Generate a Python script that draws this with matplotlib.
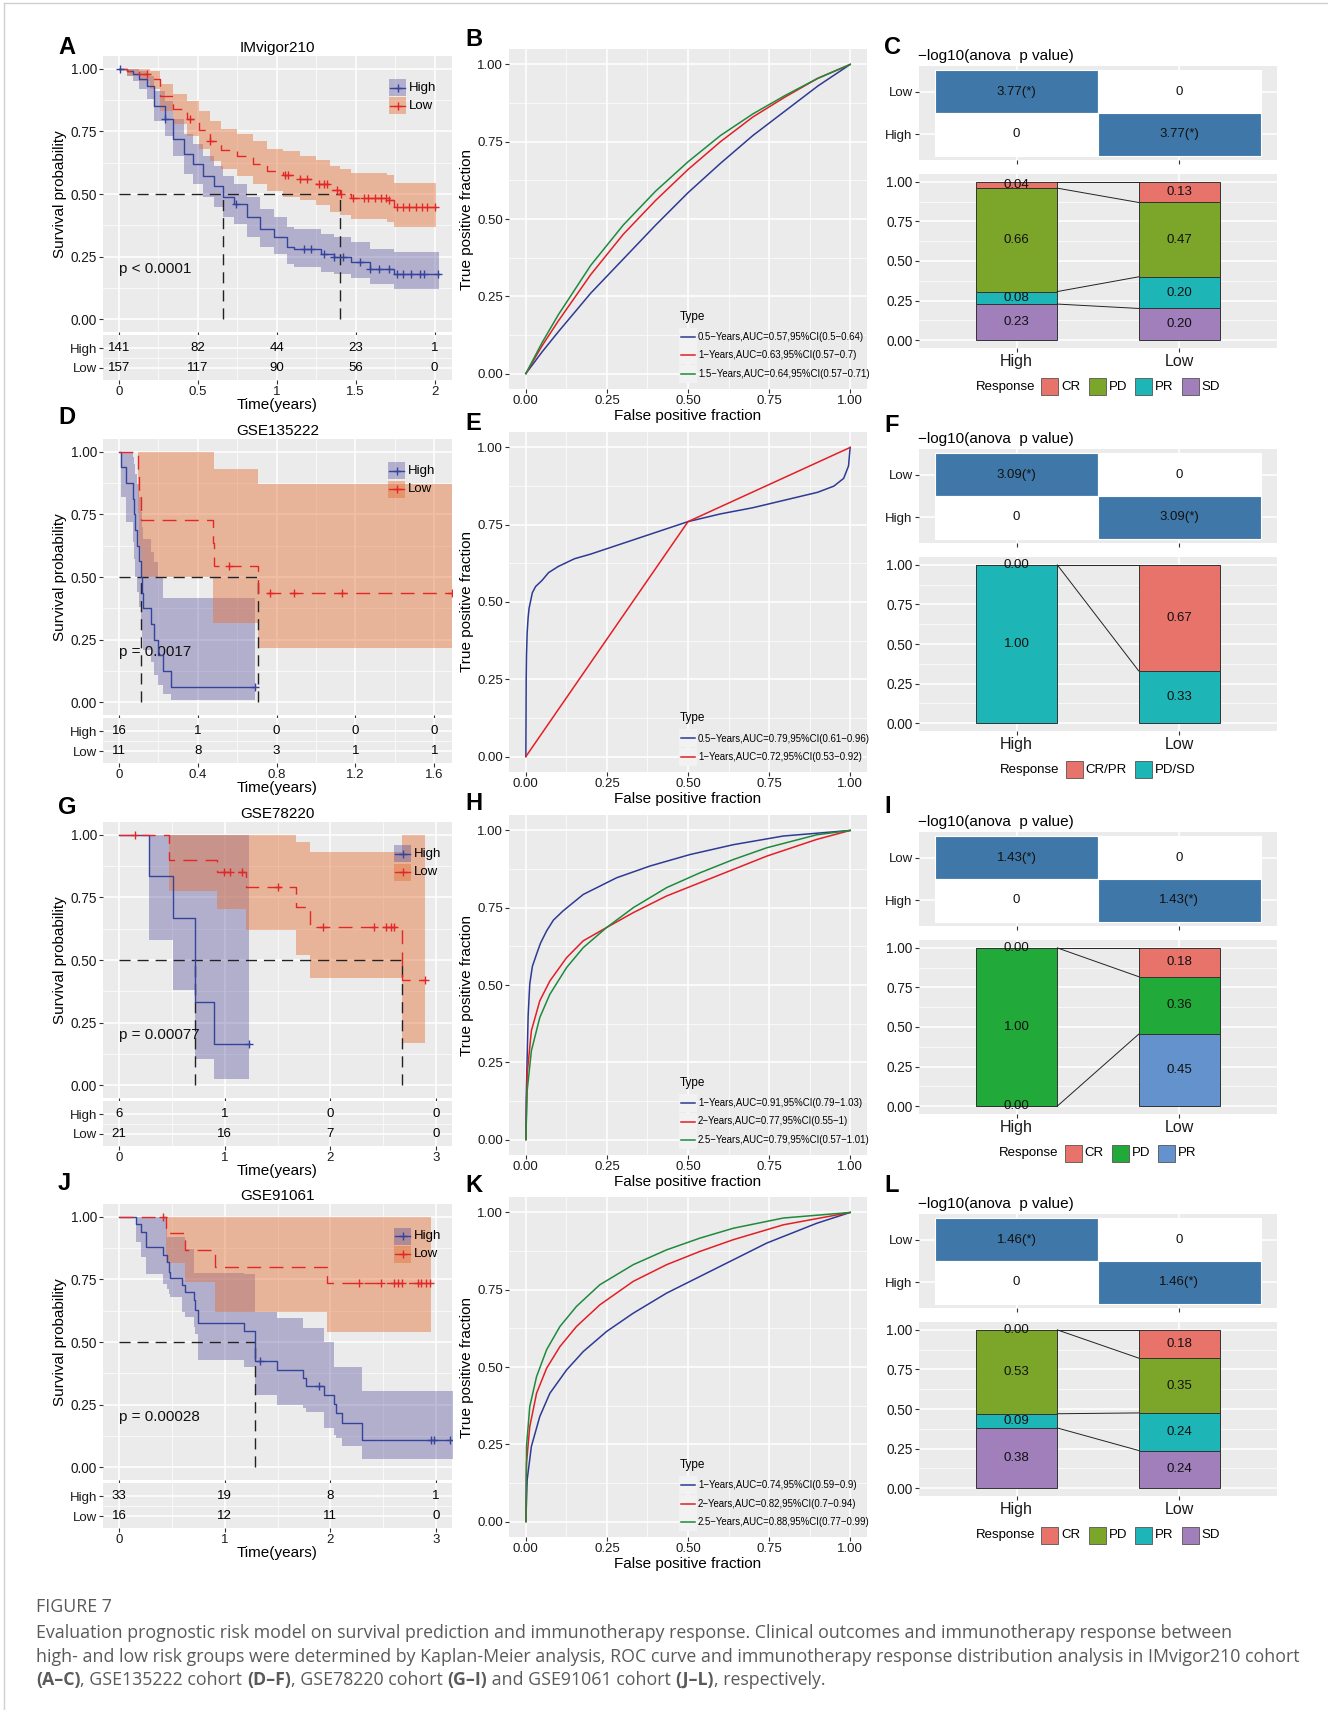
import numpy as np
import matplotlib
matplotlib.use("Agg")
import matplotlib.pyplot as plt
from matplotlib.patches import Rectangle
from matplotlib.lines import Line2D

plt.rcParams['font.family'] = ['Liberation Sans', 'DejaVu Sans']

W, H = 1328, 1710
ROW_OFF = [0, 383, 766, 1148]

# ============================ DATA ============================
cohorts = ["IMvigor210", "GSE135222", "GSE78220", "GSE91061"]
km_xticks = [[0, 0.5, 1, 1.5, 2], [0, 0.4, 0.8, 1.2, 1.6], [0, 1, 2, 3], [0, 1, 2, 3]]
km_xticklabels = [["0", "0.5", "1", "1.5", "2"], ["0", "0.4", "0.8", "1.2", "1.6"],
                  ["0", "1", "2", "3"], ["0", "1", "2", "3"]]
km_xlims = [(-0.1, 2.11), (-0.081, 1.69), (-0.152, 3.15), (-0.152, 3.15)]
pvals = ["p < 0.0001", "p = 0.0017", "p = 0.00077", "p = 0.00028"]
risk_high = [[141, 82, 44, 23, 1], [16, 1, 0, 0, 0], [6, 1, 0, 0], [33, 19, 8, 1]]
risk_low = [[157, 117, 90, 56, 0], [11, 8, 3, 1, 1], [21, 16, 7, 0], [16, 12, 11, 0]]

# --- IMvigor210 ---
A_high_time = [0, 0.05, 0.09, 0.13, 0.18, 0.22, 0.29, 0.345, 0.41, 0.47, 0.535, 0.60, 0.66, 0.73, 0.81, 0.895, 0.98, 1.065, 1.11, 1.28, 1.36, 1.47, 1.59, 1.74]
A_high_surv = [1, 0.99, 0.98, 0.96, 0.93, 0.85, 0.80, 0.72, 0.66, 0.62, 0.57, 0.53, 0.49, 0.46, 0.41, 0.36, 0.33, 0.29, 0.28, 0.26, 0.25, 0.23, 0.20, 0.18]
A_high_lcl = [1, 0.97, 0.95, 0.92, 0.88, 0.79, 0.73, 0.65, 0.58, 0.54, 0.49, 0.45, 0.41, 0.38, 0.33, 0.29, 0.26, 0.22, 0.21, 0.19, 0.18, 0.165, 0.14, 0.12]
A_high_ucl = [1, 1, 1, 0.99, 0.97, 0.91, 0.87, 0.80, 0.74, 0.70, 0.65, 0.61, 0.57, 0.54, 0.49, 0.44, 0.41, 0.37, 0.36, 0.34, 0.33, 0.31, 0.28, 0.27]
A_high_end = 2.03
A_high_cens = [0.01, 0.29, 0.74, 1.17, 1.22, 1.30, 1.36, 1.42, 1.53, 1.59, 1.65, 1.71, 1.76, 1.80, 1.85, 1.91, 1.93, 2.02]
A_low_time = [0, 0.05, 0.13, 0.20, 0.26, 0.345, 0.43, 0.51, 0.58, 0.65, 0.75, 0.85, 0.94, 1.04, 1.15, 1.25, 1.34, 1.40, 1.47, 1.70, 1.74]
A_low_surv = [1, 0.99, 0.98, 0.96, 0.89, 0.84, 0.80, 0.755, 0.71, 0.675, 0.65, 0.62, 0.59, 0.575, 0.56, 0.54, 0.515, 0.50, 0.485, 0.475, 0.45]
A_low_lcl = [1, 0.97, 0.95, 0.92, 0.83, 0.78, 0.73, 0.68, 0.63, 0.60, 0.57, 0.54, 0.51, 0.49, 0.475, 0.455, 0.43, 0.415, 0.40, 0.39, 0.37]
A_low_ucl = [1, 1, 1, 0.99, 0.94, 0.90, 0.87, 0.83, 0.79, 0.76, 0.74, 0.71, 0.68, 0.67, 0.65, 0.635, 0.61, 0.60, 0.585, 0.575, 0.545]
A_low_end = 2.01
A_low_cens = [0.18, 0.45, 0.58, 1.05, 1.07, 1.15, 1.19, 1.27, 1.30, 1.32, 1.38, 1.41, 1.48, 1.55, 1.58, 1.62, 1.66, 1.69, 1.71, 1.76, 1.80, 1.84, 1.88, 1.92, 1.95, 2.0]

# --- GSE135222 ---
D_high_time = [0, 0.01, 0.035, 0.07, 0.078, 0.083, 0.09, 0.10, 0.11, 0.118, 0.123, 0.162, 0.18, 0.20, 0.225, 0.262]
D_high_surv = [1, 0.9375, 0.875, 0.8125, 0.75, 0.6875, 0.625, 0.5625, 0.5, 0.4375, 0.375, 0.3125, 0.25, 0.1875, 0.125, 0.0625]
D_high_lcl = [1, 0.82, 0.72, 0.64, 0.57, 0.50, 0.44, 0.38, 0.32, 0.26, 0.21, 0.16, 0.11, 0.07, 0.035, 0.01]
D_high_ucl = [1, 1, 1, 0.98, 0.95, 0.91, 0.87, 0.82, 0.76, 0.70, 0.65, 0.60, 0.56, 0.50, 0.415, 0.415]
D_high_end = 0.69
D_high_cens = [0.69]
D_low_time = [0, 0.098, 0.103, 0.112, 0.475, 0.48, 0.705]
D_low_surv = [1, 0.909, 0.818, 0.727, 0.636, 0.545, 0.436]
D_low_lcl = [1, 0.75, 0.62, 0.50, 0.316, 0.316, 0.217]
D_low_ucl = [1, 1, 1, 1, 1, 0.93, 0.87]
D_low_end = 1.69
D_low_cens = [0.56, 0.765, 0.89, 1.13, 1.69]

# --- GSE78220 ---
G_high_time = [0, 0.285, 0.51, 0.72, 0.895]
G_high_surv = [1, 0.833, 0.667, 0.333, 0.167]
G_high_lcl = [1, 0.58, 0.38, 0.107, 0.027]
G_high_ucl = [1, 1, 1, 1, 1]
G_high_end = 1.23
G_high_cens = [1.23]
G_low_time = [0, 0.475, 0.93, 1.20, 1.67, 1.81, 2.68]
G_low_surv = [1, 0.90, 0.85, 0.79, 0.71, 0.63, 0.42]
G_low_lcl = [1, 0.775, 0.705, 0.62, 0.52, 0.43, 0.17]
G_low_ucl = [1, 1, 1, 1, 0.97, 0.93, 1]
G_low_end = 2.89
G_low_cens = [0.15, 0.99, 1.05, 1.16, 1.50, 1.93, 2.41, 2.53, 2.57, 2.60, 2.89]

# --- GSE91061 ---
J_high_time = [0, 0.16, 0.21, 0.256, 0.42, 0.45, 0.47, 0.48, 0.595, 0.62, 0.705, 0.72, 0.75, 1.18, 1.29, 1.49, 1.74, 1.77, 1.94, 2.03, 2.05, 2.11, 2.30]
J_high_surv = [1, 0.97, 0.94, 0.88, 0.847, 0.818, 0.78, 0.754, 0.728, 0.70, 0.668, 0.628, 0.575, 0.545, 0.425, 0.39, 0.356, 0.325, 0.29, 0.252, 0.216, 0.177, 0.108]
J_high_lcl = [1, 0.90, 0.84, 0.77, 0.73, 0.71, 0.69, 0.68, 0.62, 0.60, 0.56, 0.53, 0.43, 0.40, 0.29, 0.25, 0.235, 0.22, 0.157, 0.13, 0.117, 0.084, 0.035]
J_high_ucl = [1, 1, 1, 1, 1, 0.92, 0.92, 0.92, 0.92, 0.87, 0.775, 0.775, 0.775, 0.77, 0.62, 0.595, 0.555, 0.555, 0.50, 0.40, 0.40, 0.40, 0.305]
J_high_end = 3.16
J_high_cens = [1.33, 1.89, 2.95, 2.98, 3.13]
J_low_time = [0, 0.446, 0.62, 0.91, 1.97]
J_low_surv = [1, 0.933, 0.867, 0.80, 0.734]
J_low_lcl = [1, 0.815, 0.74, 0.62, 0.54]
J_low_ucl = [1, 1, 1, 1, 0.997]
J_low_end = 2.95
J_low_cens = [0.42, 2.27, 2.48, 2.60, 2.64, 2.68, 2.83, 2.86, 2.90, 2.94]

# --- ROC curves ---
B_fpr = [0, 0.05, 0.1, 0.2, 0.3, 0.4, 0.5, 0.6, 0.7, 0.8, 0.9, 1]
B_tpr_05y = [0, 0.07, 0.135, 0.26, 0.37, 0.48, 0.585, 0.68, 0.77, 0.85, 0.93, 1]
B_tpr_1y = [0, 0.09, 0.17, 0.32, 0.45, 0.56, 0.66, 0.75, 0.83, 0.895, 0.955, 1]
B_tpr_15y = [0, 0.10, 0.19, 0.35, 0.48, 0.59, 0.685, 0.77, 0.84, 0.90, 0.955, 1]
B_labels = ["0.5\u2212Years,AUC=0.57,95%CI(0.5\u22120.64)", "1\u2212Years,AUC=0.63,95%CI(0.57\u22120.7)",
            "1.5\u2212Years,AUC=0.64,95%CI(0.57\u22120.71)"]

E_fpr_05y = [0, 0.001, 0.002, 0.004, 0.007, 0.01, 0.02, 0.03, 0.05, 0.07, 0.1, 0.15, 0.2, 0.3, 0.4, 0.5, 0.6, 0.7, 0.8, 0.9, 0.95, 0.98, 0.995, 1]
E_tpr_05y = [0, 0.25, 0.33, 0.40, 0.45, 0.48, 0.53, 0.55, 0.57, 0.595, 0.615, 0.64, 0.655, 0.69, 0.725, 0.76, 0.785, 0.805, 0.83, 0.855, 0.875, 0.90, 0.94, 1]
E_fpr_1y = [0, 0.5, 1]
E_tpr_1y = [0, 0.76, 1]
E_labels = ["0.5\u2212Years,AUC=0.79,95%CI(0.61\u22120.96)", "1\u2212Years,AUC=0.72,95%CI(0.53\u22120.92)"]

H_fpr_1y = [0, 0.001, 0.004, 0.007, 0.012, 0.02, 0.033, 0.045, 0.064, 0.085, 0.115, 0.177, 0.28, 0.383, 0.506, 0.64, 0.794, 1]
H_tpr_1y = [0, 0.13, 0.266, 0.40, 0.503, 0.56, 0.60, 0.635, 0.675, 0.71, 0.74, 0.793, 0.847, 0.885, 0.922, 0.954, 0.982, 1]
H_fpr_2y = [0, 0.004, 0.017, 0.043, 0.074, 0.126, 0.177, 0.249, 0.331, 0.434, 0.537, 0.64, 0.743, 0.897, 1]
H_tpr_2y = [0, 0.212, 0.352, 0.449, 0.513, 0.589, 0.643, 0.686, 0.734, 0.788, 0.831, 0.874, 0.917, 0.971, 1]
H_fpr_25y = [0, 0.004, 0.017, 0.043, 0.074, 0.126, 0.177, 0.249, 0.331, 0.434, 0.537, 0.64, 0.743, 0.897, 1]
H_tpr_25y = [0, 0.158, 0.287, 0.395, 0.47, 0.557, 0.621, 0.686, 0.75, 0.815, 0.863, 0.906, 0.944, 0.986, 1]
H_labels = ["1\u2212Years,AUC=0.91,95%CI(0.79\u22121.03)", "2\u2212Years,AUC=0.77,95%CI(0.55\u22121)",
            "2.5\u2212Years,AUC=0.79,95%CI(0.57\u22121.01)"]

K_fpr_1y = [0, 0.004, 0.017, 0.043, 0.074, 0.126, 0.177, 0.249, 0.331, 0.434, 0.537, 0.64, 0.743, 0.897, 1]
K_tpr_1y = [0, 0.135, 0.243, 0.34, 0.415, 0.491, 0.55, 0.615, 0.674, 0.739, 0.793, 0.847, 0.901, 0.965, 1]
K_fpr_2y = [0, 0.002, 0.012, 0.033, 0.064, 0.105, 0.156, 0.228, 0.331, 0.434, 0.537, 0.64, 0.794, 1]
K_tpr_2y = [0, 0.189, 0.307, 0.415, 0.496, 0.566, 0.631, 0.701, 0.777, 0.831, 0.874, 0.912, 0.96, 1]
K_fpr_25y = [0, 0.002, 0.012, 0.033, 0.064, 0.105, 0.156, 0.228, 0.331, 0.434, 0.537, 0.64, 0.794, 1]
K_tpr_25y = [0, 0.243, 0.372, 0.469, 0.556, 0.631, 0.696, 0.766, 0.831, 0.879, 0.917, 0.949, 0.982, 1]
K_labels = ["1\u2212Years,AUC=0.74,95%CI(0.59\u22120.9)", "2\u2212Years,AUC=0.82,95%CI(0.7\u22120.94)",
            "2.5\u2212Years,AUC=0.88,95%CI(0.77\u22120.99)"]

# --- Response distributions ---
groups = ["High", "Low"]
C_levels = ["CR", "PD", "PR", "SD"]
C_high = [0.04, 0.66, 0.08, 0.23]
C_low = [0.13, 0.47, 0.20, 0.20]
F_levels = ["CR/PR", "PD/SD"]
F_high = [0.00, 1.00]
F_low = [0.67, 0.33]
I_levels = ["CR", "PD", "PR"]
I_high = [0.00, 1.00, 0.00]
I_low = [0.18, 0.36, 0.45]
L_levels = ["CR", "PD", "PR", "SD"]
L_high = [0.00, 0.53, 0.09, 0.38]
L_low = [0.18, 0.35, 0.24, 0.24]
anova_vals = ["3.77", "3.09", "1.43", "1.46"]

# ============================ STYLE ============================
GRAY_BG = '#EBEBEB'
HIGH_LINE = '#35449A'
HIGH_FILL = '#484095'
HIGH_ALPHA = 0.35
LOW_LINE = '#E32626'
LOW_FILL = '#E47139'
LOW_ALPHA = 0.45
ROC_COLS = ['#2E3A93', '#E41E26', '#1E8B3C']
RESP_COL = {"CR": '#E8736B', "PD": '#7BA62A', "PR": '#1DB5B5', "SD": '#A07FBA',
            "CR/PR": '#E8736B', "PD/SD": '#1DB5B5'}
I_COL = {"CR": '#E8736B', "PD": '#21AA3A', "PR": '#6392CD'}
HEAT_BLUE = '#3F78A8'

fig = plt.figure(figsize=(W / 100, H / 100), dpi=100)


def pax(x0, y0, x1, y1):
    return fig.add_axes([x0 / W, 1 - y1 / H, (x1 - x0) / W, (y1 - y0) / H])


def fig_rect(x0, y0, x1, y1, **kw):
    fig.add_artist(Rectangle((x0 / W, 1 - y1 / H), (x1 - x0) / W, (y1 - y0) / H,
                             transform=fig.transFigure, **kw))


def fig_line(xs, ys, **kw):
    fig.add_artist(Line2D([x / W for x in xs], [1 - y / H for y in ys],
                          transform=fig.transFigure, **kw))


def ftext(x, y, s, **kw):
    return fig.text(x / W, 1 - y / H, s, **kw)


def style_gg(ax, minor=True):
    ax.set_facecolor(GRAY_BG)
    for sp in ax.spines.values():
        sp.set_visible(False)
    ax.tick_params(which='major', length=3, width=0.8, color='#333333',
                   labelcolor='#1a1a1a', pad=1.5)
    ax.tick_params(which='minor', length=0)
    ax.grid(which='major', color='white', lw=1.1)
    if minor:
        ax.grid(which='minor', color='white', lw=0.5)
    ax.set_axisbelow(True)


def mids(v):
    return [(a + b) / 2 for a, b in zip(v[:-1], v[1:])]


km_data = [
    ((A_high_time, A_high_surv, A_high_lcl, A_high_ucl, A_high_end, A_high_cens),
     (A_low_time, A_low_surv, A_low_lcl, A_low_ucl, A_low_end, A_low_cens)),
    ((D_high_time, D_high_surv, D_high_lcl, D_high_ucl, D_high_end, D_high_cens),
     (D_low_time, D_low_surv, D_low_lcl, D_low_ucl, D_low_end, D_low_cens)),
    ((G_high_time, G_high_surv, G_high_lcl, G_high_ucl, G_high_end, G_high_cens),
     (G_low_time, G_low_surv, G_low_lcl, G_low_ucl, G_low_end, G_low_cens)),
    ((J_high_time, J_high_surv, J_high_lcl, J_high_ucl, J_high_end, J_high_cens),
     (J_low_time, J_low_surv, J_low_lcl, J_low_ucl, J_low_end, J_low_cens)),
]
legend_x = [389, 388, 394, 394]

# ============================ KM PANELS ============================
for r in range(4):
    off = ROW_OFF[r]
    xt = km_xticks[r]
    ax = pax(103, 56 + off, 452, 332 + off)
    style_gg(ax)
    ax.set_xlim(km_xlims[r])
    ax.set_ylim(-0.05, 1.05)
    ax.set_xticks(xt)
    ax.set_xticks(mids(xt), minor=True)
    ax.set_yticks([0, 0.25, 0.5, 0.75, 1.0])
    ax.set_yticklabels(['0.00', '0.25', '0.50', '0.75', '1.00'], fontsize=9.8)
    ax.set_yticks([0.125, 0.375, 0.625, 0.875], minor=True)
    ax.tick_params(axis='x', labelbottom=False)
    ax.set_ylabel('Survival probability', fontsize=11, labelpad=2)
    ax.set_title(cohorts[r], fontsize=11, pad=3)

    hi, lo = km_data[r]
    fills = [(hi, HIGH_FILL, HIGH_ALPHA), (lo, LOW_FILL, LOW_ALPHA)]
    for (t, s, lcl, ucl, end, cens), fc, al in fills:
        tt = list(t) + [end]
        ax.fill_between(tt, list(lcl) + [lcl[-1]], list(ucl) + [ucl[-1]],
                        step='post', color=fc, alpha=al, lw=0)
    lines = [(hi, HIGH_LINE, '-'), (lo, LOW_LINE, (0, (10, 6)))]
    meds = []
    for (t, s, lcl, ucl, end, cens), lc, ls in lines:
        tt = list(t) + [end]
        ss = list(s) + [s[-1]]
        ax.step(tt, ss, where='post', color=lc, lw=1.0, ls=ls, zorder=4)
        idx = np.searchsorted(np.array(t), np.array(cens), side='right') - 1
        cy = np.array(s)[np.clip(idx, 0, None)]
        ax.plot(cens, cy, ls='none', marker='+', ms=6, mew=1.0, color=lc, zorder=5)
        below = [ti for ti, si in zip(t, s) if si <= 0.5]
        if below:
            meds.append(below[0])
    if meds:
        ax.plot([0, max(meds)], [0.5, 0.5], color='#222222', lw=1.0, ls=(0, (8, 5)), zorder=3)
        for m in meds:
            ax.plot([m, m], [0, 0.5], color='#222222', lw=1.0, ls=(0, (8, 5)), zorder=3)
    ax.text(0, 0.2, pvals[r], fontsize=11, ha='left', va='center', color='#111111')

    # legend
    lx = legend_x[r]
    for k, (name, fc, al, lc) in enumerate([("High", HIGH_FILL, HIGH_ALPHA, HIGH_LINE),
                                           ("Low", LOW_FILL, LOW_ALPHA, LOW_LINE)]):
        cy = 56 + off + 32 + 18 * k
        fig_rect(lx, cy - 8.5, lx + 17, cy + 8.5, facecolor=fc, alpha=al, edgecolor='none', zorder=5)
        fig_line([lx + 1, lx + 16], [cy, cy], color=lc, lw=1.0, zorder=6)
        fig_line([lx + 8.5], [cy], color=lc, marker='+', ms=6, mew=1.0, ls='none', zorder=6)
        ftext(lx + 20, cy, name, fontsize=9.5, va='center', ha='left', zorder=6)

    # risk table
    rax = pax(103, 335 + off, 452, 380 + off)
    style_gg(rax)
    rax.set_xlim(km_xlims[r])
    rax.set_ylim(-0.6, 1.65)
    rax.set_xticks(xt)
    rax.set_xticklabels(km_xticklabels[r], fontsize=9.5)
    rax.set_xticks(mids(xt), minor=True)
    rax.set_yticks([1, 0])
    rax.set_yticklabels(['High', 'Low'], fontsize=9.5)
    rax.set_yticks([0.5], minor=True)
    for x, n in zip(xt, risk_high[r]):
        rax.text(x, 1, str(n), ha='center', va='center', fontsize=9.5)
    for x, n in zip(xt, risk_low[r]):
        rax.text(x, 0, str(n), ha='center', va='center', fontsize=9.5)
    rax.set_xlabel('Time(years)', fontsize=11, labelpad=0)

# ============================ ROC PANELS ============================
roc_sets = [
    ([(B_fpr, B_tpr_05y), (B_fpr, B_tpr_1y), (B_fpr, B_tpr_15y)], B_labels),
    ([(E_fpr_05y, E_tpr_05y), (E_fpr_1y, E_tpr_1y)], E_labels),
    ([(H_fpr_1y, H_tpr_1y), (H_fpr_2y, H_tpr_2y), (H_fpr_25y, H_tpr_25y)], H_labels),
    ([(K_fpr_1y, K_tpr_1y), (K_fpr_2y, K_tpr_2y), (K_fpr_25y, K_tpr_25y)], K_labels),
]
rt = [0, 0.25, 0.5, 0.75, 1.0]
rtl = ['0.00', '0.25', '0.50', '0.75', '1.00']
for r in range(4):
    off = ROW_OFF[r]
    ax = pax(509, 49 + off, 867, 389 + off)
    style_gg(ax)
    ax.set_xlim(-0.052, 1.052)
    ax.set_ylim(-0.05, 1.05)
    ax.set_xticks(rt)
    ax.set_xticklabels(rtl, fontsize=9.5)
    ax.set_yticks(rt)
    ax.set_yticklabels(rtl, fontsize=9.5)
    ax.set_xticks(mids(rt), minor=True)
    ax.set_yticks(mids(rt), minor=True)
    ax.set_xlabel('False positive fraction', fontsize=11, labelpad=1)
    ax.set_ylabel('True positive fraction', fontsize=11, labelpad=2)
    curves, labels = roc_sets[r]
    for (fp, tp), col in zip(curves, ROC_COLS):
        ax.plot(fp, tp, color=col, lw=1.1, solid_joinstyle='round')
    n = len(curves)
    bottom = 389 + off
    ys = [bottom - 15 - 18.5 * (n - 1 - i) for i in range(n)]
    ftext(680, ys[0] - 20, 'Type', fontsize=8.5, ha='left', va='center')
    for y, lab, col in zip(ys, labels, ROC_COLS):
        fig_rect(679, y - 9, 697, y + 9, facecolor='#F2F2F2', edgecolor='none', zorder=5)
        fig_line([681, 695], [y, y], color=col, lw=1.1, zorder=6)
        ftext(698, y, lab, fontsize=6.9, ha='left', va='center', zorder=6)

# ============================ RESPONSE PANELS ============================
resp_sets = [(C_levels, C_high, C_low, RESP_COL), (F_levels, F_high, F_low, RESP_COL),
             (I_levels, I_high, I_low, I_COL), (L_levels, L_high, L_low, RESP_COL)]
renderer = fig.canvas.get_renderer()


def text_w(s, **kw):
    t1 = fig.text(0, 0, 'x' + s + 'x', **kw)
    w1 = t1.get_window_extent(renderer).width
    t1.remove()
    t2 = fig.text(0, 0, 'xx', **kw)
    w2 = t2.get_window_extent(renderer).width
    t2.remove()
    return w1 - w2


for r in range(4):
    off = ROW_OFF[r]
    levels, vh, vl, cmap = resp_sets[r]
    # heatmap
    hax = pax(919, 66 + off, 1277, 160 + off)
    style_gg(hax, minor=False)
    hax.set_xlim(0.4, 2.6)
    hax.set_ylim(0.4, 2.6)
    hax.set_xticks([1, 2])
    hax.set_xticklabels([])
    hax.set_yticks([1, 2])
    hax.set_yticklabels(['High', 'Low'], fontsize=9.5)
    cells = [(1, 2, anova_vals[r] + "(*)", HEAT_BLUE), (2, 2, "0", 'white'),
             (1, 1, "0", 'white'), (2, 1, anova_vals[r] + "(*)", HEAT_BLUE)]
    for cx, cy, lab, fc in cells:
        hax.add_patch(Rectangle((cx - 0.5, cy - 0.5), 1, 1, facecolor=fc, edgecolor='white', lw=0.8))
        hax.text(cx, cy, lab, ha='center', va='center', fontsize=9.5, color='#111111')
    ftext(918, 56 + off, "\u2212log10(anova  p value)", fontsize=11, ha='left', va='center')

    # stacked bars
    bax = pax(919, 174 + off, 1277, 348 + off)
    style_gg(bax)
    bax.set_xlim(0.4, 2.6)
    bax.set_ylim(-0.05, 1.05)
    bax.set_xticks([1, 2])
    bax.set_xticklabels(groups, fontsize=11.5)
    bax.set_yticks([0, 0.25, 0.5, 0.75, 1.0])
    bax.set_yticklabels(['0.00', '0.25', '0.50', '0.75', '1.00'], fontsize=9.8)
    bax.set_yticks([0.125, 0.375, 0.625, 0.875], minor=True)
    tops = []
    for gi, vals in enumerate([vh, vl]):
        x = gi + 1
        tot = sum(vals)
        bottom = 0.0
        gt = {}
        for lev, v in zip(levels[::-1], vals[::-1]):
            h = v / tot
            bax.bar(x, h, bottom=bottom, width=0.5, color=cmap[lev], edgecolor='#333333', lw=0.7, zorder=2)
            bax.text(x, bottom + h / 2, f"{v:.2f}", ha='center', va='center', fontsize=9.5,
                     color='#111111', zorder=4)
            bottom += h
            gt[lev] = bottom
        tops.append(gt)
    for lev in levels:
        bax.plot([1.25, 1.75], [tops[0][lev], tops[1][lev]], color='#222222', lw=0.7, zorder=3)

    # legend
    fs_t, fs_l = 9.5, 9.5
    items = []
    total = text_w("Response", fontsize=fs_t) + 6
    for i, lev in enumerate(levels):
        wl = text_w(lev, fontsize=fs_l)
        total += 17 + 3 + wl + (8 if i < len(levels) - 1 else 0)
        items.append((lev, wl))
    x = 1098 - total / 2
    ly = 387 + off
    ftext(x, ly, "Response", fontsize=fs_t, ha='left', va='center')
    x += text_w("Response", fontsize=fs_t) + 6
    for lev, wl in items:
        fig_rect(x, ly - 8.5, x + 17, ly + 8.5, facecolor=cmap[lev], edgecolor='#555555', lw=0.6)
        x += 20
        ftext(x, ly, lev, fontsize=fs_l, ha='left', va='center')
        x += wl + 8

# ============================ PANEL LETTERS ============================
letters = [("A", 58, 48), ("B", 465, 40), ("C", 884, 47),
           ("D", 58, 418), ("E", 465, 423), ("F", 884, 425),
           ("G", 58, 807), ("H", 465, 803), ("I", 884, 806),
           ("J", 58, 1184), ("K", 465, 1185), ("L", 884, 1186)]
for s, x, y in letters:
    ftext(x, y, s, fontsize=17, fontweight='bold', ha='left', va='center')

# ============================ CAPTION ============================
CAP_FONT = ['Open Sans', 'DejaVu Sans']
CAP_COL = '#5a5a5a'
line1 = ("Evaluation prognostic risk model on survival prediction and immunotherapy response. "
         "Clinical outcomes and immunotherapy response between")
line2 = ("high- and low risk groups were determined by Kaplan-Meier analysis, ROC curve and "
         "immunotherapy response distribution analysis in IMvigor210 cohort")
line3 = [("(A\u2013C)", 'bold'), (", GSE135222 cohort ", 'normal'), ("(D\u2013F)", 'bold'),
         (", GSE78220 cohort ", 'normal'), ("(G\u2013I)", 'bold'),
         (" and GSE91061 cohort ", 'normal'), ("(J\u2013L)", 'bold'), (", respectively.", 'normal')]

w2 = text_w(line2, fontsize=12, family=CAP_FONT)
cap_fs = 12 * 1260 / w2
ftext(36, 1607, "FIGURE 7", fontsize=cap_fs, family=CAP_FONT, color=CAP_COL, va='center')
ftext(36, 1633, line1, fontsize=cap_fs, family=CAP_FONT, color=CAP_COL, va='center')
ftext(36, 1657, line2, fontsize=cap_fs, family=CAP_FONT, color=CAP_COL, va='center')
x = 36
for s, wgt in line3:
    ftext(x, 1680, s, fontsize=cap_fs, family=CAP_FONT, color=CAP_COL, va='center', fontweight=wgt)
    x += text_w(s, fontsize=cap_fs, family=CAP_FONT, fontweight=wgt)

# border
fig_line([4, W], [3, 3], color='#d0d0d0', lw=1)
fig_line([4, 4], [3, H], color='#d0d0d0', lw=1)

fig.savefig("out.png", dpi=100)
